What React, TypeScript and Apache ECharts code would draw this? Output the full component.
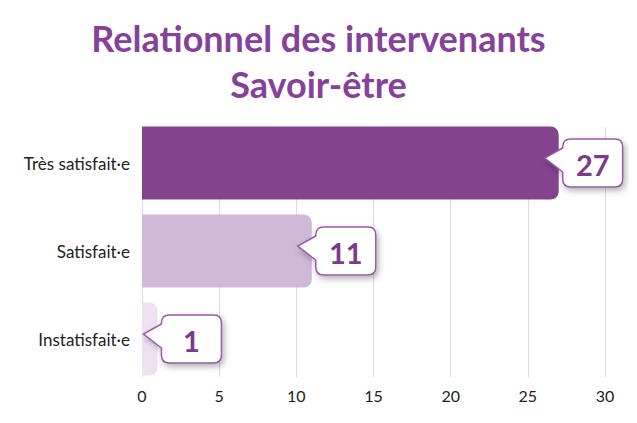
import { useRef, useEffect } from "react";
import * as echarts from "echarts";

const categories = ["Très satisfait·e", "Satisfait·e", "Instatisfait·e"];
const values = [27, 11, 1];
const barColors = ["#85438f", "#d0b8d8", "#ede3ef"];
const xTicks = { min: 0, max: 30, interval: 5 };

const FONT = "Lato, 'Open Sans', sans-serif";

// speech-bubble label: box to the right of the bar end, pointer going back into the bar
function calloutPath(L: number, T: number) {
  const W = 60;
  const H = 48;
  const r = 8;
  return [
    `M${L + r},${T}`,
    `H${L + W - r}`,
    `Q${L + W},${T} ${L + W},${T + r}`,
    `V${T + H - r}`,
    `Q${L + W},${T + H} ${L + W - r},${T + H}`,
    `H${L + r}`,
    `Q${L},${T + H} ${L},${T + H - r}`,
    `V${T + 33}`,
    `L${L - 18},${T + 19}`,
    `L${L},${T + 9}`,
    `V${T + r}`,
    `Q${L},${T} ${L + r},${T}`,
    "Z",
  ].join(" ");
}

export default function App() {
  const chartRef = useRef<HTMLDivElement>(null);

  useEffect(() => {
    if (!chartRef.current) return;
    const chart = echarts.init(chartRef.current, null, { renderer: "svg" });

    const option: echarts.EChartsOption = {
      animation: false,
      title: {
        text: "Relationnel des intervenants\nSavoir-être",
        left: "center",
        top: 2,
        textStyle: {
          color: "#86429a",
          fontFamily: FONT,
          fontWeight: "bold",
          fontSize: 36,
          lineHeight: 46,
        },
      },
      grid: [
        { left: 134, right: 24, top: 111, bottom: 32 },
        { left: 134, right: 24, top: 119, bottom: 38 },
      ],
      xAxis: [
        { type: "value", gridIndex: 0, ...xTicks, show: false },
        {
          type: "value",
          gridIndex: 1,
          ...xTicks,
          axisLine: { show: false },
          axisTick: { show: false },
          splitLine: { lineStyle: { color: "#dcdcdc", width: 1 } },
          axisLabel: {
            color: "#222",
            fontFamily: FONT,
            fontSize: 16,
            margin: 10,
          },
        },
      ],
      yAxis: [
        {
          type: "category",
          gridIndex: 0,
          data: categories,
          inverse: true,
          axisLine: { show: false },
          axisTick: { show: false },
          axisLabel: {
            color: "#222",
            fontFamily: FONT,
            fontSize: 17,
            margin: 12,
          },
        },
        {
          type: "category",
          gridIndex: 1,
          data: categories,
          inverse: true,
          show: false,
        },
      ],
      series: [
        {
          type: "bar",
          xAxisIndex: 0,
          yAxisIndex: 0,
          barWidth: 73,
          data: values.map((v, i) => ({
            value: v,
            itemStyle: { color: barColors[i], borderRadius: [0, 8, 8, 0] },
          })),
        },
        {
          type: "custom",
          xAxisIndex: 0,
          yAxisIndex: 0,
          z: 5,
          data: values.map((v, i) => [v, i]),
          renderItem: (params: any, api: any) => {
            const pt = api.coord([api.value(0), api.value(1)]);
            const L = pt[0] + 4;
            const T = pt[1] - 24;
            return {
              type: "group",
              children: [
                {
                  type: "path",
                  shape: { pathData: calloutPath(L, T) },
                  style: {
                    fill: "#fff",
                    stroke: "#9a5aa8",
                    lineWidth: 1.5,
                    shadowColor: "rgba(0,0,0,0.3)",
                    shadowBlur: 6,
                    shadowOffsetX: 2,
                    shadowOffsetY: 3,
                  },
                },
                {
                  type: "text",
                  x: L + 30,
                  y: T + 25,
                  style: {
                    text: String(api.value(0)),
                    fill: "#7b3a8b",
                    fontFamily: FONT,
                    fontWeight: "bold",
                    fontSize: 29,
                    align: "center",
                    verticalAlign: "middle",
                  },
                },
              ],
            };
          },
        },
      ],
    };

    chart.setOption(option);
    return () => chart.dispose();
  }, []);

  return <div ref={chartRef} style={{ width: 621, height: 407 }} />;
}
